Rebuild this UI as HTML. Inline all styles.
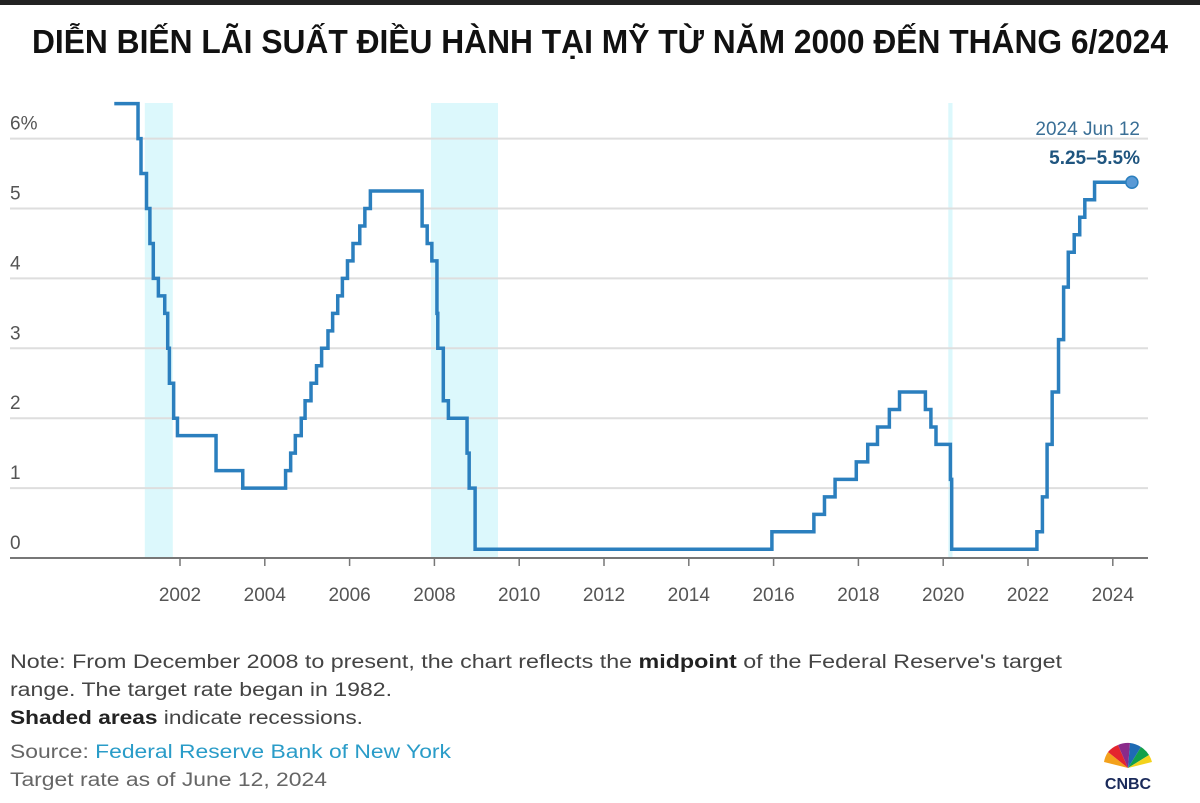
<!DOCTYPE html>
<html><head><meta charset="utf-8"><style>
html,body{margin:0;padding:0;background:#fff;}
svg{display:block;font-family:"Liberation Sans",sans-serif;}
</style></head><body>
<svg id="chart" width="1200" height="803" viewBox="0 0 1200 803">
<rect x="0" y="0" width="1200" height="5" fill="#222"/>
<text x="600" y="53" text-anchor="middle" font-family="'Liberation Sans Narrow','Liberation Sans',sans-serif" font-weight="bold" font-size="33" fill="#111" textLength="1136" lengthAdjust="spacingAndGlyphs">DIỄN BIẾN LÃI SUẤT ĐIỀU HÀNH TẠI MỸ TỪ NĂM 2000 ĐẾN THÁNG 6/2024</text>
<g id="recessions"></g>
<g id="grid"></g>
<g id="xaxis"></g>
<g id="yaxis"></g>
<g id="series"></g>
<text x="1140" y="135" text-anchor="end" font-size="19" fill="#3a6f96">2024 Jun 12</text>
<text x="1140" y="164" text-anchor="end" font-size="19" font-weight="bold" fill="#1f557f">5.25–5.5%</text>
<g font-size="19" fill="#444">
<text x="10" y="668" textLength="1052" lengthAdjust="spacingAndGlyphs">Note: From December 2008 to present, the chart reflects the <tspan font-weight="bold" fill="#222">midpoint</tspan> of the Federal Reserve's target</text>
<text x="10" y="696" textLength="382" lengthAdjust="spacingAndGlyphs">range. The target rate began in 1982.</text>
<text x="10" y="724" textLength="353" lengthAdjust="spacingAndGlyphs"><tspan font-weight="bold" fill="#222">Shaded areas</tspan> indicate recessions.</text>
<text x="10" y="758" fill="#666" textLength="441" lengthAdjust="spacingAndGlyphs">Source: <tspan fill="#2a9cc8">Federal Reserve Bank of New York</tspan></text>
<text x="10" y="786" fill="#666" textLength="317" lengthAdjust="spacingAndGlyphs">Target rate as of June 12, 2024</text>
</g>
<g transform="translate(1128,768)">
<path d="M0,0 L-24,-6 A25,25 0 0 1 -20,-16 Z" fill="#f3a11c"/>
<path d="M0,0 L-20,-16 A25,25 0 0 1 -10,-23 Z" fill="#e4252e"/>
<path d="M0,0 L-10,-23 A25,25 0 0 1 2,-25 Z" fill="#8a2a8a"/>
<path d="M0,0 L2,-25 A25,25 0 0 1 13,-21 Z" fill="#1e6ab4"/>
<path d="M0,0 L13,-21 A25,25 0 0 1 21,-13 Z" fill="#12a04a"/>
<path d="M0,0 L21,-13 A25,25 0 0 1 24,-6 Z" fill="#f3d21c"/>
<text x="0" y="21" text-anchor="middle" font-size="16" font-weight="bold" fill="#1a2a5a">CNBC</text>
</g>
</svg>
<script>
const rateDates = [2000.45,2001.01,2001.08,2001.21,2001.29,2001.37,2001.49,2001.64,2001.71,2001.75,2001.85,2001.94,
2002.85,2003.48,2004.49,2004.61,2004.72,2004.86,2004.95,2005.09,2005.22,2005.34,2005.49,2005.6,2005.72,2005.83,2005.95,
2006.08,2006.24,2006.36,2006.49,2007.71,2007.83,2007.94,2008.06,2008.08,2008.21,2008.33,2008.77,2008.82,2008.96,
2015.96,2016.95,2017.2,2017.45,2017.95,2018.22,2018.45,2018.73,2018.97,2019.58,2019.71,2019.83,2020.17,2020.2,
2022.21,2022.34,2022.45,2022.57,2022.72,2022.84,2022.95,2023.09,2023.22,2023.34,2023.57,2024.45];
const rateValues = [6.5,6.0,5.5,5.0,4.5,4.0,3.75,3.5,3.0,2.5,2.0,1.75,
1.25,1.0,1.25,1.5,1.75,2.0,2.25,2.5,2.75,3.0,3.25,3.5,3.75,4.0,4.25,
4.5,4.75,5.0,5.25,4.75,4.5,4.25,3.5,3.0,2.25,2.0,1.5,1.0,0.125,
0.375,0.625,0.875,1.125,1.375,1.625,1.875,2.125,2.375,2.125,1.875,1.625,1.125,0.125,
0.375,0.875,1.625,2.375,3.125,3.875,4.375,4.625,4.875,5.125,5.375,5.375];
const recessionStarts = [2001.17,2007.92,2020.12];
const recessionEnds = [2001.83,2009.5,2020.22];
const yTicks = [0,1,2,3,4,5,6];
const yTickLabels = ["0","1","2","3","4","5","6%"];
const xTicks = [2002,2004,2006,2008,2010,2012,2014,2016,2018,2020,2022,2024];

const NS="http://www.w3.org/2000/svg";
const X = yr => 180 + (yr-2002)*42.4;
const Y = v => 558 - v*69.9;
function mk(tag, parent){const e=document.createElementNS(NS,tag);parent.appendChild(e);return e;}

const rg=document.getElementById('recessions');
recessionStarts.forEach((s,i)=>{
  const r=mk('rect',rg);
  
  
  r.setAttribute('x',X(s));r.setAttribute('width',X(recessionEnds[i])-X(s));
  r.setAttribute('y',103);r.setAttribute('height',455);r.setAttribute('fill','#dcf8fc');
});
const gg=document.getElementById('grid'), yg=document.getElementById('yaxis');
yTicks.forEach((v,i)=>{
  if(v>0){const l=mk('line',gg);
    
    
    l.setAttribute('x1',10);l.setAttribute('x2',1148);l.setAttribute('y1',Y(v));l.setAttribute('y2',Y(v));
    l.setAttribute('stroke','#dedede');l.setAttribute('stroke-width','2');}
  const t=mk('text',yg);
  
  
  t.setAttribute('x',10);t.setAttribute('y',Y(v)-9);t.setAttribute('font-size','19');t.setAttribute('fill','#555');
  t.textContent=yTickLabels[i];
});
const xg=document.getElementById('xaxis');
const ax=mk('line',xg);


ax.setAttribute('x1',10);ax.setAttribute('x2',1148);ax.setAttribute('y1',558);ax.setAttribute('y2',558);
ax.setAttribute('stroke','#777');ax.setAttribute('stroke-width','2');
xTicks.forEach(yr=>{
  const tk=mk('line',xg);
  
  
  tk.setAttribute('x1',X(yr));tk.setAttribute('x2',X(yr));tk.setAttribute('y1',558);tk.setAttribute('y2',566);
  tk.setAttribute('stroke','#777');tk.setAttribute('stroke-width','1.5');
  const t=mk('text',xg);
  
  
  t.setAttribute('x',X(yr));t.setAttribute('y',601);t.setAttribute('text-anchor','middle');
  t.setAttribute('font-size','19');t.setAttribute('fill','#555');t.textContent=yr;
});
const sg=document.getElementById('series');
let d='';
rateDates.forEach((yr,i)=>{
  if(i===0) d+='M'+X(yr)+','+Y(rateValues[i]);
  else d+=' H'+X(yr)+' V'+Y(rateValues[i]);
});
const p=mk('path',sg);


p.setAttribute('d',d);p.setAttribute('fill','none');p.setAttribute('stroke','#2b7fbe');p.setAttribute('stroke-width','3.5');
const li=rateDates.length-1;
const c=mk('circle',sg);


c.setAttribute('cx',X(rateDates[li]));c.setAttribute('cy',Y(rateValues[li]));c.setAttribute('r','6');
c.setAttribute('fill','#5a9ad6');c.setAttribute('stroke','#2b7fbe');c.setAttribute('stroke-width','1.5');
</script>
</body></html>
